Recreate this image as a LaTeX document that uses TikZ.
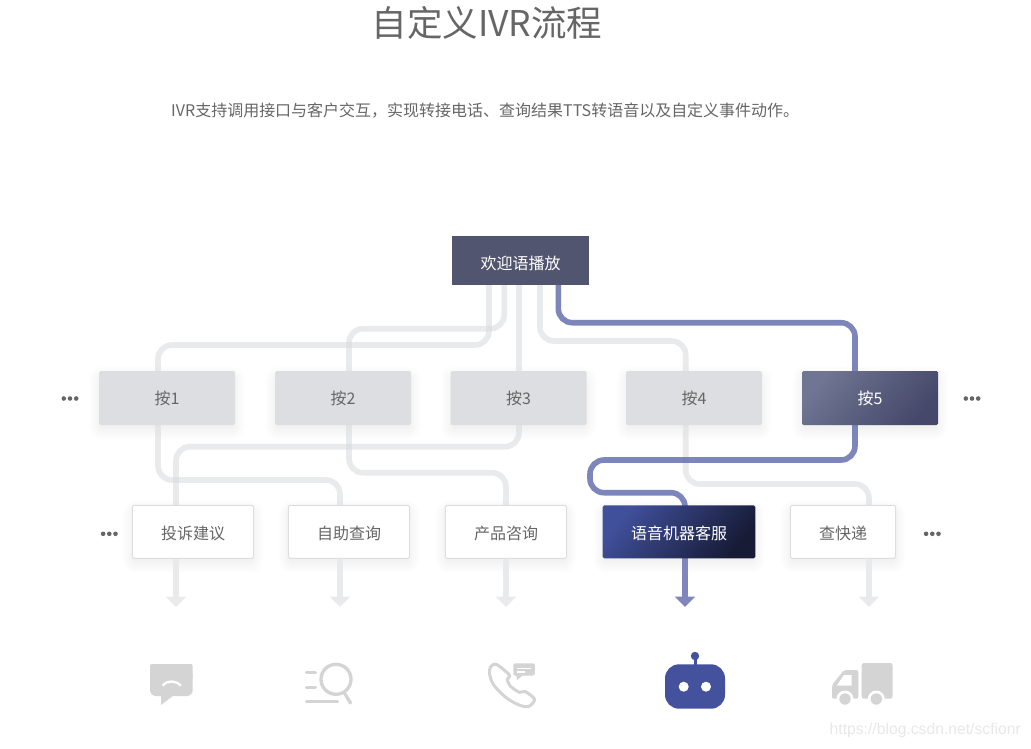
\documentclass[tikz,border=0pt]{standalone}
\usepackage{fontspec}
\setmainfont{Noto Sans CJK SC}
\newfontfamily\wmfont{Liberation Sans}
\usetikzlibrary{arrows.meta}
\pgfdeclarelayer{bg}
\pgfsetlayers{bg,main}
\definecolor{txt}{HTML}{666666}
\definecolor{grayline}{HTML}{DADCDF}
\definecolor{grayarrow}{HTML}{E9EAEC}
\definecolor{blueline}{HTML}{6771AF}
\definecolor{bluearrow}{HTML}{7E86BB}
\definecolor{icongray}{HTML}{D4D4D4}
\definecolor{iconblue}{HTML}{44529D}
\definecolor{HTMLDDDEE1}{HTML}{DDDEE1}
\definecolor{HTML6F7592}{HTML}{6F7592}
\definecolor{HTML45486A}{HTML}{45486A}
\definecolor{HTMLDEDEDE}{HTML}{DEDEDE}
\definecolor{HTML40509B}{HTML}{40509B}
\definecolor{HTML171B36}{HTML}{171B36}
\definecolor{HTML525570}{HTML}{525570}
\definecolor{wmgray}{HTML}{E8E8E8}
\tikzset{
  boxbase/.style={rectangle,inner sep=0pt,outer sep=0pt,rounded corners=1.5pt,text=txt,
    font=\fontsize{16}{18}\selectfont},
  presskey/.style={boxbase,fill=HTMLDDDEE1,minimum width=136pt,minimum height=54pt},
  presskeyon/.style={boxbase,text=white,minimum width=136pt,minimum height=54pt,
    top color=HTML6F7592,bottom color=HTML45486A,shading angle=50},
  leafbox/.style={boxbase,fill=white,draw=HTMLDEDEDE,line width=1pt,minimum height=53pt},
  leafon/.style={boxbase,text=white,minimum width=152.6pt,minimum height=53pt,
    top color=HTML40509B,bottom color=HTML171B36,shading angle=50},
  wire/.style={draw=grayline,draw opacity=.6,line width=5.6pt,rounded corners=14pt},
  bluewire/.style={draw=blueline,draw opacity=.85,line width=5.6pt,rounded corners=14pt},
  down/.style={line width=5.8pt,-{Triangle[width=20pt,length=10.5pt]}},
  glyph/.style={draw=icongray,line width=3.3pt,line cap=round,line join=round},
}
\newcommand{\softshadow}[1]{%
  \foreach \d in {-3,-2,...,10}{%
    \pgfmathsetmacro{\rr}{\d+4}%
    \path[fill=black,fill opacity=.005,rounded corners=\rr pt]
      ([shift={(-\d,{-\d+5})}]#1.north west) rectangle ([shift={(\d,{\d+5})}]#1.south east);
  }}
\newcommand{\threedots}[2]{%
  \foreach \k in {-6.2,0,6.2}{\fill[txt] ({#1+\k},#2) circle (2.3pt);}}
\newcommand{\lowered}[2]{\smash{\raisebox{-#1pt}{#2}}}
\begin{document}
\begin{tikzpicture}[x=1pt,y=-1pt]
\useasboundingbox (0,0) rectangle (1031,748);

\node[text=txt,font=\fontsize{35.5}{40}\selectfont] (title) at (487,23) {自定义IVR流程};
\node[text=txt,anchor=west,inner sep=0pt,font=\fontsize{16}{18}\selectfont] (sub) at (171,110.5)
  {IVR支持调用接口与客户交互，实现转接电话、查询结果TTS转语音以及自定义事件动作。};

\node[boxbase,rounded corners=0pt,text=white,fill=HTML525570,minimum width=137pt,minimum height=49pt] (welcome) at (520.5,260.5) {\lowered{8.9}{欢迎语播放}};

\node[presskey] (p1) at (167,398) {\lowered{6}{按1}};
\node[presskey] (p2) at (343,398) {\lowered{6}{按2}};
\node[presskey] (p3) at (518.5,398) {\lowered{6}{按3}};
\node[presskey] (p4) at (694,398) {\lowered{6}{按4}};
\node[presskeyon] (p5) at (870,398) {\lowered{6}{按5}};

\node[leafbox,minimum width=121.4pt] (n1) at (193,531.8) {\lowered{7.6}{投诉建议}};
\node[leafbox,minimum width=121.4pt] (n2) at (349,531.8) {\lowered{7.6}{自助查询}};
\node[leafbox,minimum width=121.4pt] (n3) at (506,531.8) {\lowered{7.6}{产品咨询}};
\node[leafon] (n4) at (679,531.8) {\lowered{7.6}{语音机器客服}};
\node[leafbox,minimum width=105.4pt] (n5) at (843,531.8) {\lowered{7.6}{查快递}};

\threedots{70}{398.5}
\threedots{972}{398.5}
\threedots{109.3}{533.8}
\threedots{932.3}{533.8}

\coordinate (t1) at (176,607);
\coordinate (t2) at (340,607);
\coordinate (t3) at (506,607);
\coordinate (t4) at (685,607);
\coordinate (t5) at (869,607);

\begin{pgfonlayer}{bg}
  \fill[white] (0,0) rectangle (1031,748);
  \foreach \n in {p1,p2,p3,p4,p5,n1,n2,n3,n4,n5}{\softshadow{\n}}
  \draw[wire] ([xshift=-31.5pt]welcome.south) -- ++(0,60) -| ([xshift=-9pt]p1.north);
  \draw[wire] ([xshift=-16.2pt]welcome.south) -- ++(0,43.7) -| ([xshift=6pt]p2.north);
  \draw[wire] ([xshift=-1.5pt]welcome.south) -- ([xshift=.5pt]p3.north);
  \draw[wire] ([xshift=19.5pt]welcome.south) -- ++(0,56) -| ([xshift=-8.3pt]p4.north);
  \draw[wire] ([xshift=-9pt]p1.south) -- ++(0,55) -| ([xshift=-9pt]n2.north);
  \draw[wire] ([xshift=6pt]p2.south) -- ++(0,47.7) -| (n3.north);
  \draw[wire] ([xshift=.5pt]p3.south) -- ++(0,21.7) -| ([xshift=-17pt]n1.north);
  \draw[wire] ([xshift=-8.3pt]p4.south) -- ++(0,59) -| ([xshift=26pt]n5.north);
  \draw[bluewire] ([xshift=37.8pt]welcome.south) -- ++(0,37.7) -| ([xshift=-15pt]p5.north);
  \draw[bluewire] ([xshift=-15pt]p5.south) -- ++(0,35) -- ++(-265,0) -- ++(0,32.7) -| ([xshift=6pt]n4.north);
  \draw[down,draw=grayarrow,fill=grayarrow] ([xshift=-17pt]n1.south) -- (t1);
  \draw[down,draw=grayarrow,fill=grayarrow] ([xshift=-9pt]n2.south) -- (t2);
  \draw[down,draw=grayarrow,fill=grayarrow] (n3.south) -- (t3);
  \draw[down,draw=bluearrow,fill=bluearrow] ([xshift=6pt]n4.south) -- (t4);
  \draw[down,draw=grayarrow,fill=grayarrow] ([xshift=26pt]n5.south) -- (t5);
\end{pgfonlayer}

% chat icon
\fill[icongray,rounded corners=2pt] (150,664) rectangle (192.7,680);
\fill[icongray,rounded corners=6pt] (150,670) rectangle (192.7,696);
\fill[icongray] (161,694) -- (161,705) -- (174,695) -- cycle;
\draw[white,line width=2.4pt] (162.6,685.8) .. controls (167,680) and (176,680) .. (180.8,685.8);

% search icon
\draw[glyph] (336,679.3) circle (15pt);
\draw[glyph] (344.5,693) -- (350.5,703);
\draw[glyph] (306.5,672.7) -- (315.5,672.7);
\draw[glyph] (306.5,687.3) -- (315.5,687.3);
\draw[glyph] (306.5,701.7) -- (337.5,701.7);

% phone icon
\draw[draw=icongray,line width=3pt,line join=round]
  plot[smooth cycle,tension=.55] coordinates {(495.7,664.2) (489.5,670) (492.7,683.3) (505,696.7) (518,704.5) (528.3,706.5) (534.5,699.3) (525,691.5) (519.3,692.3) (510,685.7) (507.3,679) (509.3,675)};
\fill[icongray,rounded corners=2pt] (513.3,663.3) rectangle (534.8,675.7);
\fill[icongray] (516,675) -- (517.3,680) -- (523,675) -- cycle;
\draw[white,line width=1.5pt] (517,668.3) -- (530.7,668.3);
\draw[white,line width=1.5pt] (517,671.9) -- (525,671.9);

% robot icon
\fill[iconblue,rounded corners=14pt] (665,664.3) rectangle (725,708.7);
\fill[iconblue] (693.5,656) rectangle (696.5,666);
\fill[iconblue] (695,656) circle (4.2pt);
\fill[white] (683.7,686.7) circle (5pt);
\fill[white] (706,686.7) circle (5pt);

% truck icon
\fill[icongray,rounded corners=2.5pt] (861.7,663) rectangle (892.7,698.7);
\fill[icongray,rounded corners=2pt] (858.3,670) -- (844,670) -- (832,685) -- (832,698.7) -- (858.3,698.7) -- cycle;
\fill[white] (851.7,675) -- (844,675) -- (836.7,685.7) -- (851.7,685.7) -- cycle;
\fill[white] (845,699) circle (8.5pt);
\fill[white] (876.3,699) circle (8.5pt);
\fill[icongray] (845,699) circle (5.7pt);
\fill[icongray] (876.3,699) circle (5.7pt);

\node[text=wmgray,anchor=east,inner sep=0pt,font=\wmfont\fontsize{15.7}{18}\selectfont] (wm) at (1021,730) {https://blog.csdn.net/scfionr};
\end{tikzpicture}
\end{document}
